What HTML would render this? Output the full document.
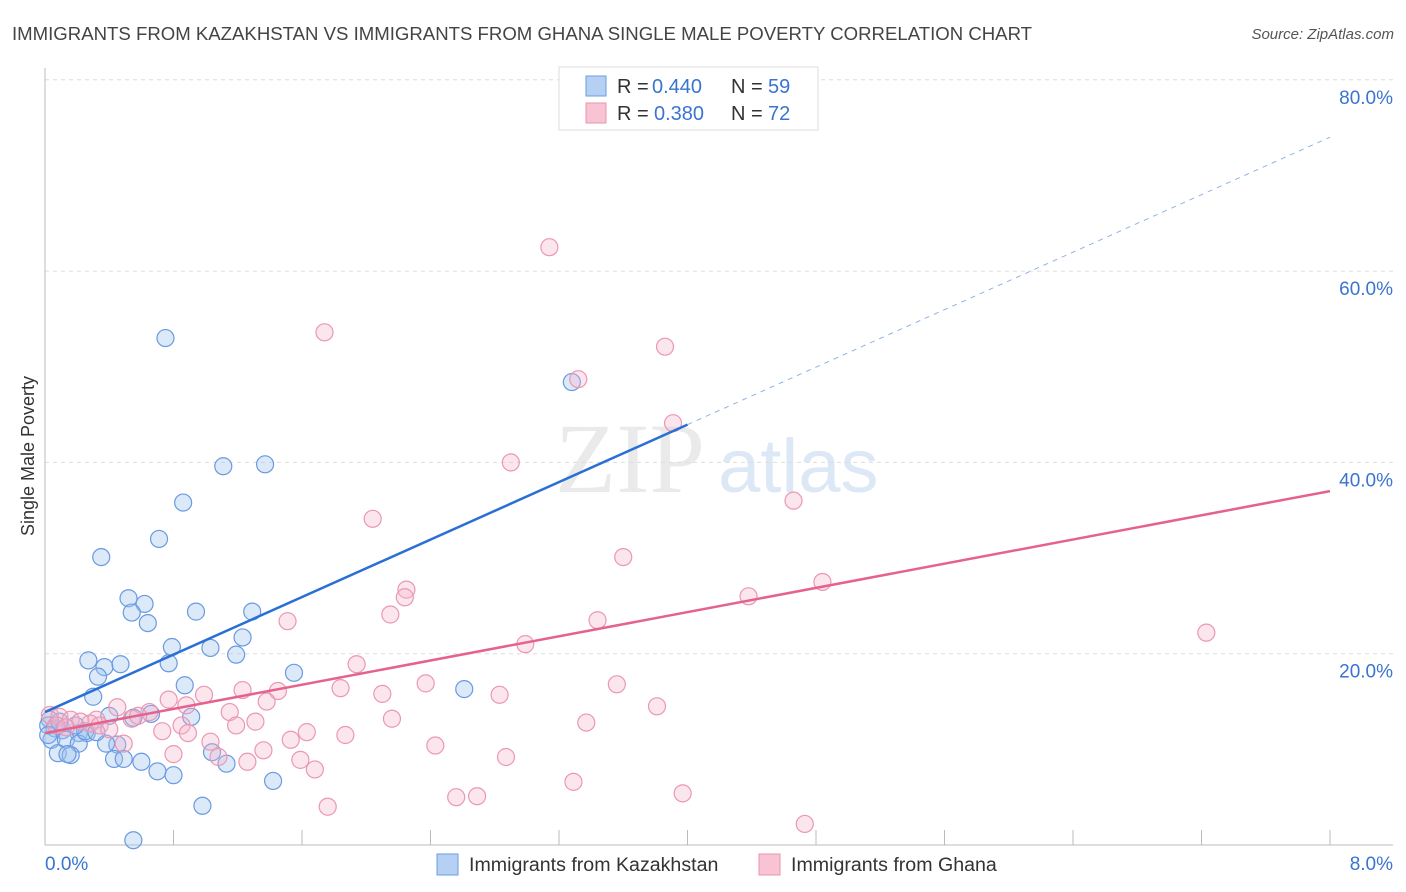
<!DOCTYPE html>
<html><head><meta charset="utf-8"><style>
body{margin:0;background:#fff;font-family:"Liberation Sans",sans-serif;}
svg{display:block}
</style></head><body>
<svg id="c" width="1406" height="892">
<text x="12" y="40" font-size="18.6" fill="#444">IMMIGRANTS FROM KAZAKHSTAN VS IMMIGRANTS FROM GHANA SINGLE MALE POVERTY CORRELATION CHART</text>
<text x="1394" y="39" font-size="15" fill="#555" font-style="italic" text-anchor="end">Source: ZipAtlas.com</text>
<text x="555" y="492" font-size="100" fill="#ddd" font-family="Liberation Serif" opacity="0.6">ZIP</text>
<text x="718" y="492" font-size="76" fill="#c8daf2" opacity="0.6">atlas</text>
<text transform="translate(34,456) rotate(-90)" font-size="18" fill="#333" text-anchor="middle">Single Male Poverty</text>
<g id="grid"></g><g id="pts"></g><g id="lines"></g>
<g>
<rect x="559" y="67" width="259" height="63" fill="#fff" stroke="#ddd"/>
<rect x="586" y="76" width="20" height="20" fill="#b5d0f3" stroke="#6a9ee0"/>
<rect x="586" y="103" width="20" height="20" fill="#f8c3d3" stroke="#ea94b0"/>
<text x="617" y="93" font-size="20" fill="#333">R =</text>
<text x="652" y="93" font-size="20" fill="#3a74d0">0.440</text>
<text x="731" y="93" font-size="20" fill="#333">N =</text>
<text x="768" y="93" font-size="20" fill="#3a74d0">59</text>
<text x="617" y="120" font-size="20" fill="#333">R =</text>
<text x="654" y="120" font-size="20" fill="#3a74d0">0.380</text>
<text x="731" y="120" font-size="20" fill="#333">N =</text>
<text x="768" y="120" font-size="20" fill="#3a74d0">72</text>
</g>
<g>
<rect x="437" y="854" width="21" height="21" fill="#b5d0f3" stroke="#6a9ee0"/>
<text x="469" y="871" font-size="19.6" fill="#333">Immigrants from Kazakhstan</text>
<rect x="759" y="854" width="21" height="21" fill="#f8c3d3" stroke="#ea94b0"/>
<text x="791" y="871" font-size="19.6" fill="#333">Immigrants from Ghana</text>
</g>
</svg>
<script>
const yTicks=[20,40,60,80];
const yTickLabels=["20.0%","40.0%","60.0%","80.0%"];
const xTickLabels=["0.0%","8.0%"];
const blueX=[0.75,3.28,1.11,1.37,0.86,0.71,0.35,0.52,0.62,0.54,0.64,0.94,1.29,1.23,0.79,1.03,1.19,0.27,0.37,0.47,0.77,0.33,1.55,0.87,0.30,2.61,0.66,0.91,0.40,0.55,0.03,0.06,0.11,0.21,0.26,0.04,0.13,0.21,0.45,0.38,1.04,0.08,0.16,0.14,0.43,0.49,0.60,0.70,0.80,1.13,1.42,0.98,0.55,0.02,0.09,0.25,0.32,0.02,0.19];
const blueY=[53.0,48.4,39.6,39.8,35.8,32.0,30.1,25.8,25.2,24.3,23.2,24.4,24.4,21.7,20.7,20.6,19.9,19.3,18.6,18.9,19.0,17.6,18.0,16.7,15.5,16.3,13.7,13.4,13.5,13.3,13.1,12.2,12.0,11.7,11.7,11.0,11.0,10.6,10.5,10.6,9.7,9.6,9.4,9.5,9.0,9.0,8.7,7.7,7.3,8.5,6.7,4.1,0.5,12.5,12.9,11.9,11.8,11.5,12.5];
const pinkX=[3.14,1.74,3.86,3.32,3.91,2.90,2.04,4.66,3.60,2.25,2.24,2.15,4.84,4.38,3.44,1.51,7.23,2.99,1.94,3.56,1.23,1.45,0.99,1.84,2.37,2.10,2.83,0.77,0.88,0.45,1.15,3.81,1.38,0.65,0.32,0.54,0.58,2.16,3.37,1.19,1.31,0.85,0.73,1.63,1.53,1.87,0.89,0.49,1.36,2.43,0.80,1.03,1.08,1.59,1.68,2.87,1.26,3.29,3.97,2.56,2.69,1.76,4.73,0.03,0.09,0.16,0.22,0.07,0.13,0.28,0.34,0.40];
const pinkY=[62.5,53.6,52.1,48.7,44.1,40.0,34.1,36.0,30.1,26.7,25.9,24.1,27.5,26.0,23.5,23.4,22.2,21.0,18.9,16.8,16.2,16.1,15.7,16.4,16.9,15.8,15.7,15.2,14.6,14.4,13.9,14.5,15.0,13.9,13.1,13.2,13.5,13.2,12.8,12.5,12.9,12.5,11.9,11.8,11.0,11.5,11.7,10.6,9.9,10.4,9.5,10.8,9.2,8.9,7.9,9.2,8.7,6.6,5.4,5.0,5.1,4.0,2.2,13.6,13.4,13.1,12.9,12.5,12.3,12.7,12.5,12.1];
const blueTrend=[13.9,74.0]; // y at x=0, x=8
const pinkTrend=[11.7,37.0];
const blueSolidEnd=4.0;
const NS="http://www.w3.org/2000/svg";
const X=v=>45+v/8*1285, Y=v=>845-v/20*191.3;
function mk(t,a,p){const e=document.createElementNS(NS,t);for(const k in a)e.setAttribute(k,a[k]);p.appendChild(e);return e;}
const grid=document.getElementById('grid');
yTicks.forEach((t,i)=>{
 const l=mk('line',{x1:45,x2:1393,y1:Y(t),y2:Y(t),stroke:'#ddd','stroke-dasharray':'4,4'},grid);
 
 
 const tx=mk('text',{x:1393,y:Y(t)+24,'font-size':19,fill:'#3a74d0','text-anchor':'end'},grid);
 tx.textContent=yTickLabels[i];
 
 
});
const ax=mk('line',{x1:45,x2:1393,y1:845,y2:845,stroke:'#bbb'},grid);


const ay=mk('line',{x1:45,x2:45,y1:68,y2:845,stroke:'#bbb'},grid);


for(let i=1;i<=10;i++){const t=mk('line',{x1:X(i*0.8),x2:X(i*0.8),y1:830,y2:845,stroke:'#bbb'},grid);
 
 }
[[0,'start',45],[8,'end',1393]].forEach((d,i)=>{const t=mk('text',{x:d[2],y:870,'font-size':19,fill:'#3a74d0','text-anchor':d[1]},grid);t.textContent=xTickLabels[i];
 
 });
const pts=document.getElementById('pts');
blueX.forEach((x,i)=>{const c=mk('circle',{cx:X(x),cy:Y(blueY[i]),r:8.5,fill:'rgba(160,196,240,0.38)',stroke:'#6a9ae0','stroke-width':1.2},pts);
 
 });
pinkX.forEach((x,i)=>{const c=mk('circle',{cx:X(x),cy:Y(pinkY[i]),r:8.5,fill:'rgba(245,180,202,0.33)',stroke:'#eb97b3','stroke-width':1.2},pts);
 
 });
const ln=document.getElementById('lines');
const by=x=>blueTrend[0]+(blueTrend[1]-blueTrend[0])*x/8;
const b1=mk('line',{x1:X(0),y1:Y(by(0)),x2:X(blueSolidEnd),y2:Y(by(blueSolidEnd)),stroke:'#2a6fd6','stroke-width':2.5},ln);


const b2=mk('line',{x1:X(blueSolidEnd),y1:Y(by(blueSolidEnd)),x2:X(8),y2:Y(by(8)),stroke:'#8fb3e6','stroke-width':1,'stroke-dasharray':'5,5'},ln);


const p1=mk('line',{x1:X(0),y1:Y(pinkTrend[0]),x2:X(8),y2:Y(pinkTrend[1]),stroke:'#e5628e','stroke-width':2.5},ln);


</script>
</body></html>
